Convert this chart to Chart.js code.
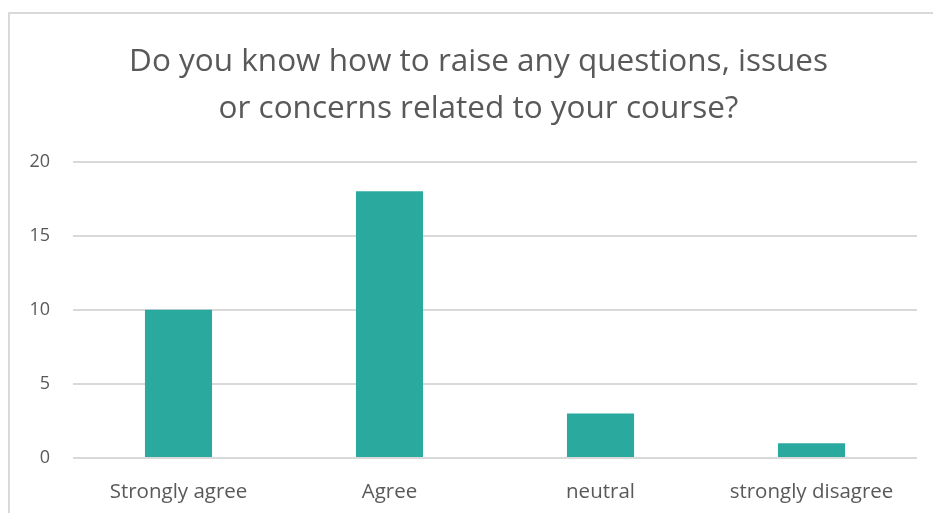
<!DOCTYPE html>
<html>
<head>
<meta charset="utf-8">
<script src="https://cdn.jsdelivr.net/npm/chart.js@4"></script>
<style>
  html, body { margin: 0; padding: 0; background: #ffffff; overflow: hidden; width: 933px; height: 513px; }
  #box { position: absolute; left: 8px; top: 12px; width: 937px; height: 520px; border: 2px solid #d9d9d9; background: #fff; }
  canvas { display: block; }
</style>
</head>
<body>
<div id="box"><canvas id="c" width="937" height="520"></canvas></div>
<script>
const categories = ["Strongly agree", "Agree", "neutral", "strongly disagree"];
const responses = [10, 18, 3, 1];
const titleLines = ["Do you know how to raise any questions, issues", "or concerns related to your course?"];
const yTicks = [0, 5, 10, 15, 20];

const textColor = "#595959";
const gridColor = "#d9d9d9";
const barColor = "#2aa99e";
const fontFamily = "'Open Sans', Lato, sans-serif";

// centre the title across the whole canvas (not only the padded area)
const fullWidthTitle = {
  id: "fullWidthTitle",
  afterLayout(chart) {
    const t = chart.titleBlock;
    if (t) { t.left = 0; t.right = chart.width; t.width = chart.width; }
  }
};

new Chart(document.getElementById("c"), {
  type: "bar",
  data: {
    labels: categories,
    datasets: [{
      data: responses,
      backgroundColor: barColor,
      borderWidth: 0,
      barPercentage: 0.318,
      categoryPercentage: 1.0
    }]
  },
  plugins: [fullWidthTitle],
  options: {
    responsive: false,
    animation: false,
    devicePixelRatio: 1,
    layout: { padding: { left: 0, right: 30, top: 0, bottom: 0 } },
    plugins: {
      legend: { display: false },
      tooltip: { enabled: false },
      title: {
        display: true,
        text: titleLines,
        color: textColor,
        font: { family: fontFamily, size: 31.5, weight: "normal", lineHeight: 1.5 },
        padding: { top: 24, bottom: 29 }
      }
    },
    scales: {
      x: {
        grid: { display: false, drawTicks: false },
        border: { display: false },
        ticks: { color: textColor, font: { family: fontFamily, size: 20.5 }, padding: 22 },
        afterFit: (s) => { s.height = 76; }
      },
      y: {
        min: 0, max: 20,
        afterBuildTicks: (s) => { s.ticks = yTicks.map(v => ({ value: v })); },
        grid: { color: gridColor, lineWidth: 2, drawTicks: false },
        border: { display: false },
        ticks: { color: textColor, font: { family: fontFamily, size: 18 }, padding: 23 },
        afterFit: (s) => { s.width = 63; }
      }
    }
  }
});
</script>
</body>
</html>
